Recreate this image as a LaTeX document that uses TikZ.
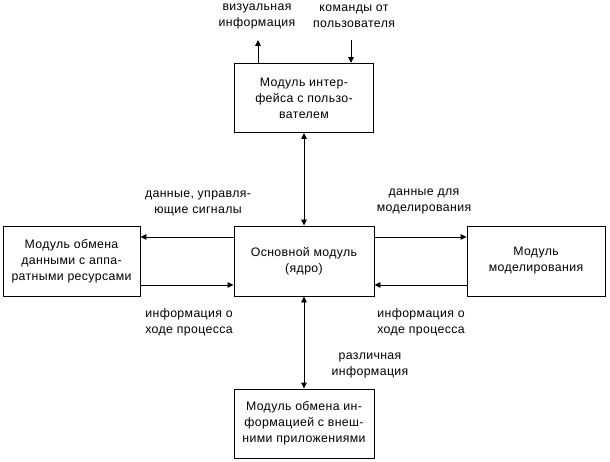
\documentclass[tikz,border=0pt]{standalone}
\usepackage{fontspec}
\setmainfont{Liberation Sans}[LetterSpace=3]
\usetikzlibrary{arrows.meta}
\begin{document}
\begin{tikzpicture}[x=1pt,y=-1pt,
  font=\fontsize{12.3}{16}\selectfont,
  modbox/.style={draw,line width=0.9pt,align=center,inner sep=0pt},
  lbl/.style={align=center,inner sep=0pt},
  conn/.style={line width=0.9pt,-{Triangle[length=6pt,width=5.5pt]}},
  dconn/.style={line width=0.9pt,{Triangle[length=6pt,width=5.5pt]}-{Triangle[length=6pt,width=5.5pt]}}]
\useasboundingbox (0,0) rectangle (610,462);
\node[modbox,minimum width=139pt,minimum height=69pt] (ui) at (304,98) {Модуль интер-\\фейса с пользо-\\вателем};
\node[modbox,minimum width=140pt,minimum height=70pt] (core) at (304,261) {Основной модуль\\(ядро)};
\node[modbox,minimum width=137pt,minimum height=70pt] (hw) at (71.5,261) {Модуль обмена\\данными с аппа-\\ратными ресурсами};
\node[modbox,minimum width=138pt,minimum height=70pt] (sim) at (536,261) {Модуль\\моделирования};
\node[modbox,minimum width=140pt,minimum height=69pt] (ext) at (304,423.5) {Модуль обмена ин-\\формацией с внеш-\\ними приложениями};
% free ends
\coordinate (vizend) at (258,40);
\coordinate (cmdstart) at (351,40);
% top arrows
\draw[conn] (ui.north -| vizend) -- (vizend);
\draw[conn] (cmdstart) -- (ui.north -| cmdstart);
\draw[dconn] (ui.south) -- (core.north);
\draw[dconn] (core.south) -- (ext.north);
% left arrows
\draw[conn] ([yshift=24pt]core.west) -- ([yshift=24pt]hw.east);
\draw[conn] ([yshift=-24pt]hw.east) -- ([yshift=-24pt]core.west);
% right arrows
\draw[conn] ([yshift=24pt]core.east) -- ([yshift=24pt]sim.west);
\draw[conn] ([yshift=-24pt]sim.west) -- ([yshift=-24pt]core.east);
% labels
\node[lbl] (l1) at (257,16) {визуальная\\информация};
\node[lbl] (l2) at (354,16) {команды от\\пользователя};
\node[lbl] (l3) at (198,203) {данные, управля-\\ющие сигналы};
\node[lbl] (l4) at (189,322) {информация о\\ходе процесса};
\node[lbl] (l5) at (424,201) {данные для\\моделирования};
\node[lbl] (l6) at (421,322) {информация о\\ходе процесса};
\node[lbl] (l7) at (370,365) {различная\\информация};
\end{tikzpicture}
\end{document}
